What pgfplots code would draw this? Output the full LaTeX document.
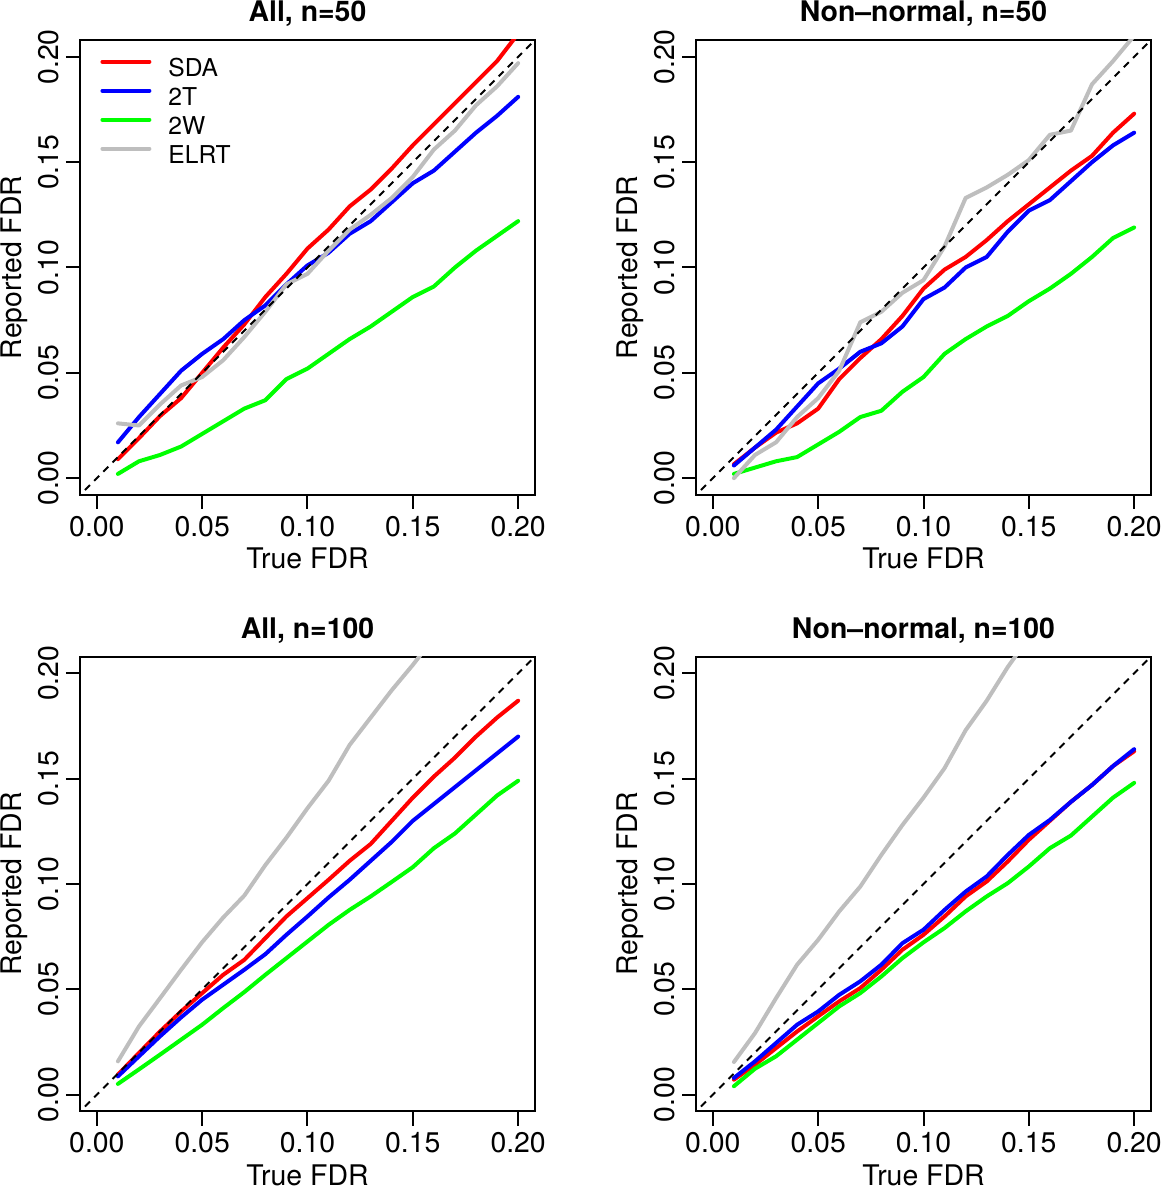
\documentclass[border=0pt]{standalone}
\usepackage{fontspec}
\setmainfont{TeX Gyre Heros}
\usepackage{pgfplots}
\usepackage{pgfplotstable}
\pgfplotsset{compat=1.18}

\definecolor{rred}{RGB}{255,0,0}
\definecolor{rblue}{RGB}{0,0,255}
\definecolor{rgreen}{RGB}{0,255,0}
\definecolor{rgray}{RGB}{190,190,190}

% x  SDA  2T  2W  ELRT
\pgfplotstableread{
x sda tt tw elrt
0.01 0.009 0.017 0.002 0.026
0.02 0.019 0.029 0.008 0.025
0.03 0.0295 0.040 0.011 0.035
0.04 0.038 0.051 0.015 0.044
0.05 0.050 0.059 0.021 0.048
0.06 0.062 0.066 0.027 0.056
0.07 0.073 0.075 0.033 0.067
0.08 0.086 0.082 0.037 0.079
0.09 0.097 0.092 0.047 0.092
0.10 0.109 0.101 0.052 0.097
0.11 0.118 0.107 0.059 0.108
0.12 0.129 0.116 0.066 0.118
0.13 0.137 0.122 0.072 0.125
0.14 0.147 0.131 0.079 0.133
0.15 0.158 0.140 0.086 0.143
0.16 0.168 0.146 0.091 0.156
0.17 0.178 0.155 0.100 0.165
0.18 0.188 0.164 0.108 0.177
0.19 0.198 0.172 0.115 0.186
0.20 0.211 0.181 0.122 0.197
}\tabA

\pgfplotstableread{
x sda tt tw elrt
0.01 0.0066 0.006 0.002 0.000
0.02 0.0145 0.0145 0.005 0.011
0.03 0.0216 0.023 0.008 0.017
0.04 0.026 0.034 0.010 0.029
0.05 0.033 0.045 0.016 0.038
0.06 0.047 0.052 0.022 0.051
0.07 0.057 0.060 0.029 0.074
0.08 0.066 0.064 0.032 0.079
0.09 0.077 0.072 0.041 0.088
0.10 0.090 0.085 0.048 0.094
0.11 0.099 0.0905 0.059 0.110
0.12 0.105 0.100 0.066 0.133
0.13 0.113 0.105 0.072 0.138
0.14 0.122 0.117 0.077 0.144
0.15 0.130 0.127 0.084 0.151
0.16 0.138 0.132 0.090 0.163
0.17 0.146 0.141 0.097 0.165
0.18 0.153 0.150 0.105 0.187
0.19 0.164 0.158 0.114 0.198
0.20 0.173 0.164 0.119 0.210
}\tabB

\pgfplotstableread{
x sda tt tw elrt
0.01 0.0095 0.0087 0.0051 0.0158
0.02 0.0198 0.0182 0.012 0.0324
0.03 0.0300 0.0277 0.019 0.0458
0.04 0.0395 0.0367 0.0261 0.0593
0.05 0.0482 0.0451 0.0332 0.0724
0.06 0.0569 0.0522 0.0411 0.0841
0.07 0.0640 0.0593 0.0487 0.0945
0.08 0.0743 0.0667 0.0569 0.109
0.09 0.0846 0.0759 0.0648 0.122
0.10 0.0933 0.0846 0.0727 0.136
0.11 0.102 0.0936 0.0806 0.149
0.12 0.111 0.102 0.0877 0.166
0.13 0.119 0.111 0.0941 0.179
0.14 0.130 0.120 0.101 0.192
0.15 0.141 0.130 0.108 0.204
0.16 0.151 0.138 0.117 0.217
0.17 0.160 0.146 0.124 0.230
0.18 0.170 0.154 0.133 0.243
0.19 0.179 0.162 0.142 0.256
0.20 0.187 0.170 0.149 0.269
}\tabC

\pgfplotstableread{
x sda tt tw elrt
0.01 0.0071 0.0079 0.0040 0.0155
0.02 0.0142 0.0158 0.0123 0.0292
0.03 0.0221 0.0245 0.0182 0.0458
0.04 0.0300 0.0332 0.0261 0.0617
0.05 0.0372 0.0395 0.0340 0.0735
0.06 0.0443 0.0474 0.0419 0.0870
0.07 0.0506 0.0538 0.0482 0.0988
0.08 0.0593 0.0617 0.0561 0.1138
0.09 0.0688 0.0719 0.0648 0.128
0.10 0.0759 0.0783 0.0723 0.141
0.11 0.0846 0.0877 0.0791 0.155
0.12 0.0941 0.0964 0.0870 0.173
0.13 0.1012 0.1036 0.0941 0.187
0.14 0.1107 0.1138 0.1004 0.203
0.15 0.121 0.1233 0.1083 0.217
0.16 0.130 0.1304 0.117 0.231
0.17 0.139 0.139 0.123 0.245
0.18 0.147 0.147 0.132 0.259
0.19 0.156 0.156 0.141 0.273
0.20 0.163 0.164 0.148 0.287
}\tabD

\pgfplotsset{rpanel/.style={
  scale only axis, width=227.5pt, height=227.5pt,
  xmin=-0.008, xmax=0.208, ymin=-0.008, ymax=0.208,
  xtick={0,0.05,0.1,0.15,0.2}, ytick={0,0.05,0.1,0.15,0.2},
  xticklabels={0.00,0.05,0.10,0.15,0.20},
  yticklabels={0.00,0.05,0.10,0.15,0.20},
  tick align=outside, xtick pos=left, ytick pos=left,
  major tick length=7pt,
  tick style={line width=1pt, black},
  axis line style={line width=1pt},
  ticklabel style={font=\fontsize{14.2}{17}\selectfont},
  yticklabel style={rotate=90, anchor=south},
  xticklabel style={anchor=north},
  label style={font=\fontsize{14.2}{17}\selectfont},
  xlabel={True FDR}, ylabel={Reported FDR},
  xlabel style={at={(0.5,-0.1625)}, anchor=base},
  ylabel style={at={(-0.1275,0.5)}, anchor=base},
  every axis title shift=0pt,
  title style={at={(0.5,1.0396)}, anchor=base, font=\bfseries\fontsize{14.2}{17}\selectfont},
  every axis plot/.append style={line width=2pt, line cap=round, line join=round},
}}

\newcommand{\panel}[1]{%
  \addplot[rred] table[x=x,y=sda]{#1};
  \addplot[rblue] table[x=x,y=tt]{#1};
  \addplot[rgreen] table[x=x,y=tw]{#1};
  \addplot[rgray] table[x=x,y=elrt]{#1};
  \addplot[black, line width=1pt, line cap=butt, dash pattern=on 3.5pt off 3pt, forget plot] coordinates {(-0.01,-0.01) (0.21,0.21)};
}

\begin{document}
\begin{tikzpicture}
\useasboundingbox (0,0) rectangle (581pt,594.5pt);

\begin{axis}[rpanel, at={(40pt,347pt)}, anchor=south west, title={All, n=50},
  legend style={draw=none, fill=none, at={(0.044,0.966)}, anchor=north west,
    font=\fontsize{12.3}{14}\selectfont, row sep=0pt, column sep=8.5pt, inner sep=0pt,
    nodes={inner sep=0pt, text height=10.25pt, text depth=4.25pt}},
  legend cell align=left,
  legend image code/.code={\draw[#1, line width=2pt, line cap=round] (0pt,4.3pt) -- (23.5pt,4.3pt);}]
\panel{\tabA}
\legend{SDA,2T,2W,ELRT}
\end{axis}

\begin{axis}[rpanel, at={(348pt,347pt)}, anchor=south west, title={Non--normal, n=50}]
\panel{\tabB}
\end{axis}

\begin{axis}[rpanel, at={(40pt,38.75pt)}, anchor=south west, title={All, n=100}]
\panel{\tabC}
\end{axis}

\begin{axis}[rpanel, at={(348pt,38.75pt)}, anchor=south west, title={Non--normal, n=100}]
\panel{\tabD}
\end{axis}
\end{tikzpicture}
\end{document}
